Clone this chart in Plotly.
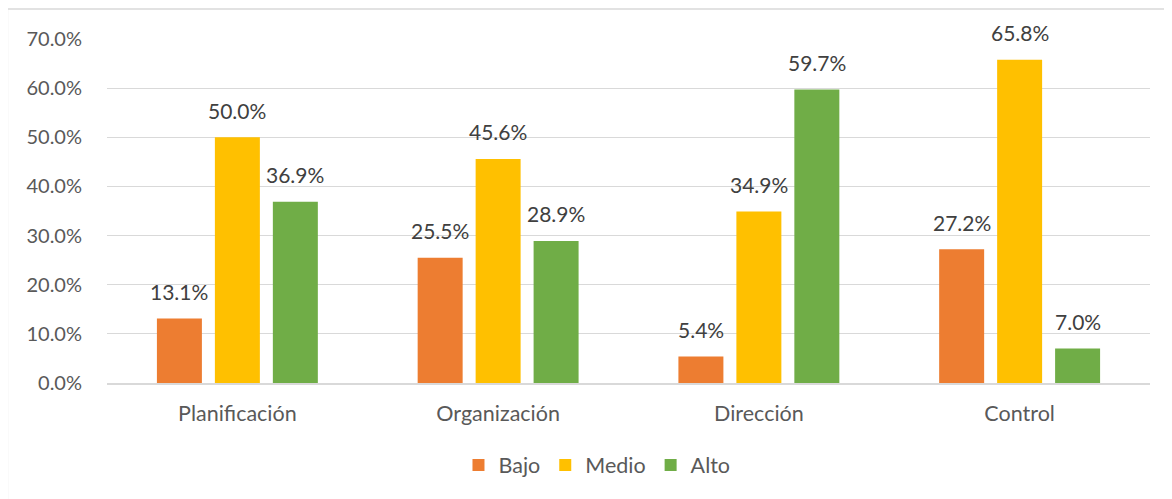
import plotly.graph_objects as go

categorias = ["Planificación", "Organización", "Dirección", "Control"]
bajo = [0.131, 0.255, 0.054, 0.272]
medio = [0.500, 0.456, 0.349, 0.658]
alto = [0.369, 0.289, 0.597, 0.070]

series = [("Bajo", bajo, "#ED7D31"), ("Medio", medio, "#FFC000"), ("Alto", alto, "#70AD47")]
FONT = "Lato, 'Open Sans', sans-serif"
TXT = "#595959"

fig = go.Figure()
for nombre, vals, color in series:
    fig.add_trace(go.Bar(x=categorias, y=vals, name=nombre, marker_color=color,
                         marker_line_width=0))

# etiquetas de datos (estilo Excel, separadas de la barra)
for i, (nombre, vals, color) in enumerate(series):
    for cat, v in zip(categorias, vals):
        fig.add_annotation(x=cat, y=v, text=f"{v*100:.1f}%", showarrow=False,
                           xshift=(i - 1) * 58, yshift=27,
                           font=dict(family=FONT, size=21, color="#404040"))

# borde del área del gráfico
fig.add_shape(type="rect", xref="paper", yref="paper",
              x0=-0.0955, x1=1.2, y0=-0.6, y1=1.087,
              line=dict(color="#D9D9D9", width=1.5), fillcolor="rgba(0,0,0,0)", layer="below")

# la página deja 8 px de margen, así que el lienzo mide 1164x491
fig.update_layout(
    width=1164, height=491,
    margin=dict(l=99, r=22, t=31, b=116, autoexpand=False),
    plot_bgcolor="white", paper_bgcolor="white",
    barmode="group", bargap=0.333, bargroupgap=0.224,
    font=dict(family=FONT, size=20, color=TXT),
    showlegend=True,
    legend=dict(orientation="h", xref="container", yref="container",
                x=0.506, xanchor="center", y=0.069, yanchor="middle",
                font=dict(size=21.5, color=TXT), itemwidth=30, traceorder="normal"),
)
fig.update_xaxes(showgrid=False, showline=True, linecolor="#D9D9D9", linewidth=2,
                 ticks="", ticklabelstandoff=10, automargin=False,
                 tickfont=dict(size=21.5, color=TXT))
fig.update_yaxes(range=[0, 0.7], dtick=0.1, tickformat=".1%", showgrid=True,
                 gridcolor="#D9D9D9", gridwidth=1, zeroline=False, showline=False,
                 ticklabelstandoff=24, automargin=False,
                 tickfont=dict(size=20, color=TXT))

fig.write_html("out.html")
